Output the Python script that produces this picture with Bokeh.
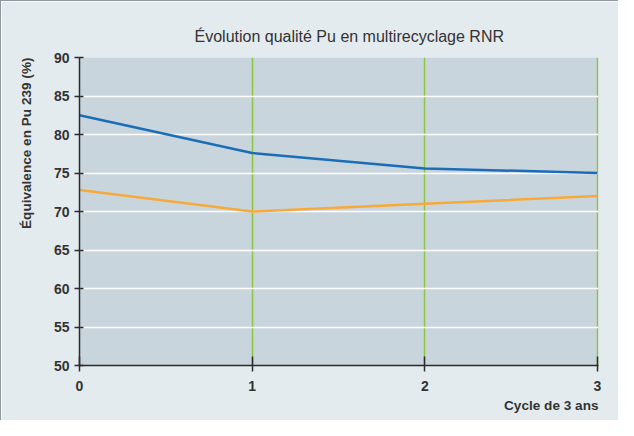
from bokeh.plotting import figure
from bokeh.models import FixedTicker, Range1d, Title
from bokeh.embed import file_html
from bokeh.resources import INLINE

cycles = [0, 1, 2, 3]
serie_bleue = [82.5, 77.6, 75.6, 75.0]
serie_orange = [72.8, 70.0, 71.0, 72.0]
y_ticks = [50, 55, 60, 65, 70, 75, 80, 85, 90]
grid_ticks = [55, 60, 65, 70, 75, 80, 85]
title_text = "Évolution qualité Pu en multirecyclage RNR"
y_label = "Équivalence en Pu 239 (%)"
x_label = "Cycle de 3 ans"

FONT = "Liberation Sans"
BG = "#E4EBEE"
PLOT_BG = "#C9D5DD"
DARK = "#2b2b2b"

p = figure(width=618, height=420, output_backend="svg", toolbar_location=None,
           x_range=Range1d(0, 3.006), y_range=Range1d(50, 90),
           min_border_left=78, min_border_right=21, min_border_top=56, min_border_bottom=56)
p.background_fill_color = PLOT_BG
p.border_fill_color = BG
p.outline_line_color = None

# axes
for ax in (p.xaxis, p.yaxis):
    ax.axis_line_color = DARK
    ax.axis_line_width = 1.5
    ax.major_tick_line_color = DARK
    ax.major_tick_line_width = 1.5
    ax.minor_tick_line_color = None
    ax.major_label_text_font = FONT
    ax.major_label_text_font_style = "bold"
    ax.major_label_text_font_size = "14px"
    ax.major_label_text_color = "#333333"

p.xaxis.ticker = FixedTicker(ticks=cycles)
p.yaxis.ticker = FixedTicker(ticks=y_ticks)
p.xaxis.major_tick_in = 9
p.xaxis.major_tick_out = 6
p.xaxis.major_label_standoff = 9
p.yaxis.major_tick_in = 4
p.yaxis.major_tick_out = 5
p.yaxis.major_label_standoff = 5

# grids
p.xgrid.ticker = FixedTicker(ticks=cycles)
p.xgrid.grid_line_color = "#8CC63F"
p.xgrid.grid_line_width = 1.5
p.ygrid.ticker = FixedTicker(ticks=grid_ticks)
p.ygrid.grid_line_color = "white"
p.ygrid.grid_line_width = 1.5

# data
p.line(cycles, serie_bleue, line_color="#1C6DB8", line_width=2.5)
p.line(cycles, serie_orange, line_color="#F7A93B", line_width=2.5)

# texts
p.title = Title(text=title_text, text_font=FONT, text_font_size="16px",
                text_font_style="normal", text_color="#333333",
                align="left", offset=115, standoff=25)
p.add_layout(Title(text=y_label, text_font=FONT, text_font_size="13.6px",
                   text_font_style="bold", text_color="#333333",
                   align="right", offset=0, standoff=30, vertical_align="top"), "left")
p.add_layout(Title(text=x_label, text_font=FONT, text_font_size="13.6px",
                   text_font_style="bold", text_color="#333333",
                   align="right", offset=0, standoff=4), "below")

p.styles = {"border-left": "1px solid #8f989e", "border-top": "1px solid #8f989e"}

open("out.html", "w").write(file_html(p, INLINE))
